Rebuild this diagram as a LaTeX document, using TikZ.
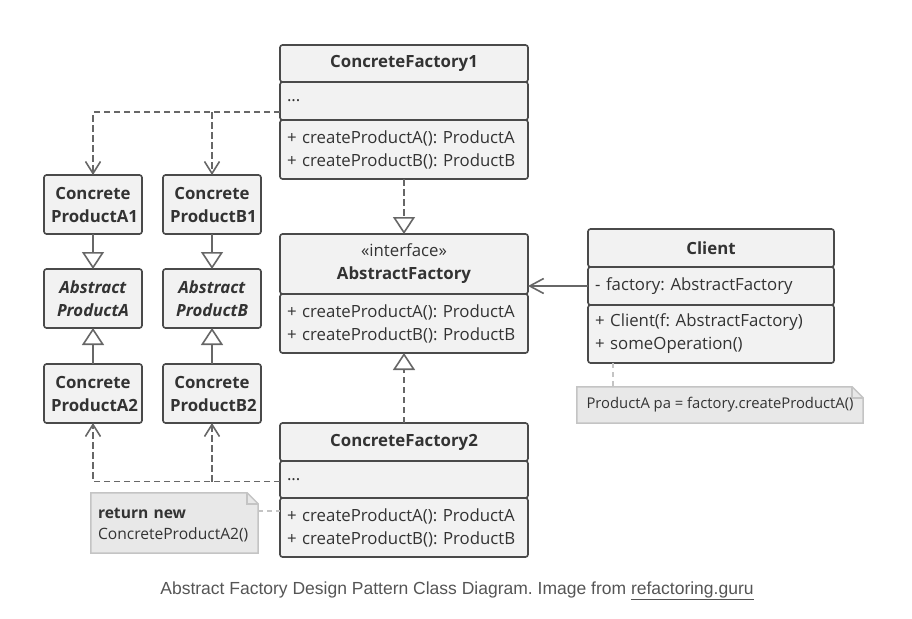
\documentclass[tikz,border=0pt]{standalone}
\usepackage{fontspec}
\setmainfont{Open Sans}
\newfontfamily\captionfont{Liberation Sans}
\usetikzlibrary{arrows.meta,positioning}
\definecolor{boxfill}{HTML}{F2F2F2}
\definecolor{boxline}{HTML}{4A4A4A}
\definecolor{ink}{HTML}{333333}
\definecolor{wire}{HTML}{676767}
\definecolor{memofill}{HTML}{E8E8E8}
\definecolor{memoline}{HTML}{C4C4C4}
\definecolor{capgrey}{HTML}{555555}
\frenchspacing
\newcommand{\diag}{\fontsize{16.8}{23}\selectfont}
\newcommand{\memotext}{\fontsize{14.8}{20.5}\selectfont}
\tikzstyle{part} = [rectangle, draw=boxline, fill=boxfill, line width=1.6pt, rounded corners=2.5pt, outer sep=0pt, inner xsep=7pt, inner ysep=0pt, text=ink]
\tikzstyle{head} = [part, font=\diag\bfseries, text width=234pt, align=center, minimum height=37pt]
\tikzstyle{attrs} = [part, font=\diag, text width=234pt, align=left, minimum height=38pt]
\tikzstyle{ops} = [part, font=\diag, text width=234pt, align=left, minimum height=59pt]
\tikzstyle{prod} = [part, font=\diag\bfseries, text width=84pt, align=center, minimum height=59pt]
\tikzstyle{memo} = [rectangle, inner xsep=7pt, inner ysep=0pt, font=\memotext, text=ink, align=left]
\tikzstyle{memoedge} = [draw=memoline, fill=memofill, line width=1.5pt]
\tikzstyle{dep} = [draw, wire, line width=1.6pt, dash pattern=on 6.5pt off 3.5pt, -{Straight Barb[length=12pt,width=15pt,line width=1.6pt]}]
\tikzstyle{real} = [draw, wire, line width=1.6pt, dash pattern=on 6.5pt off 3.5pt, -{Triangle[length=17pt,width=22pt,open,fill=white,line width=1.6pt]}]
\tikzstyle{inherit} = [draw, wire, line width=1.6pt, -{Triangle[length=17pt,width=22pt,open,fill=white,line width=1.6pt]}]
\tikzstyle{assoc} = [draw, wire, line width=1.6pt, -{Straight Barb[length=14pt,width=15pt,line width=1.6pt]}]
\tikzstyle{link} = [draw, memoline, line width=1.5pt, dash pattern=on 5pt off 4pt]

\begin{document}
\begin{tikzpicture}[x=1pt, y=-1pt]
		\useasboundingbox (0,0) rectangle (912,618);
		% Place nodes
		\node [head, anchor=north] (cf1h) at (404,45) {ConcreteFactory1};
		\node [attrs, below=0pt of cf1h] (cf1a) {...};
		\node [ops, below=0pt of cf1a] (cf1m) {+ createProductA(): ProductA\\+ createProductB(): ProductB};
		\node [head, font=\diag, minimum height=60pt, anchor=north] (afh) at (404,234) {«interface»\\\textbf{AbstractFactory}};
		\node [ops, below=0pt of afh] (afm) {+ createProductA(): ProductA\\+ createProductB(): ProductB};
		\node [head, minimum height=38pt, anchor=north] (cf2h) at (404,423) {ConcreteFactory2};
		\node [attrs, minimum height=37pt, below=0pt of cf2h] (cf2a) {...};
		\node [ops, below=0pt of cf2a] (cf2m) {+ createProductA(): ProductA\\+ createProductB(): ProductB};
		\node [head, text width=232pt, minimum height=38pt, anchor=north] (clh) at (711,229) {Client};
		\node [attrs, text width=232pt, below=0pt of clh] (cla) {- factory: AbstractFactory};
		\node [ops, text width=232pt, minimum height=58pt, below=0pt of cla] (clm) {+ Client(f: AbstractFactory)\\+ someOperation()};
		\node [prod, anchor=north] (pa1) at (93,175) {Concrete\\ProductA1};
		\node [prod, right=21pt of pa1] (pb1) {Concrete\\ProductB1};
		\node [prod, below=35pt of pa1] (apa) {\textit{Abstract}\\\textit{ProductA}};
		\node [prod, below=35pt of pb1] (apb) {\textit{Abstract}\\\textit{ProductB}};
		\node [prod, below=36pt of apa] (pa2) {Concrete\\ProductA2};
		\node [prod, below=36pt of apb] (pb2) {Concrete\\ProductB2};
		\node [memo, text width=153pt, minimum height=60pt] (memo1) at (174.5,523) {};
		\node [memo, minimum width=286pt, minimum height=36pt] (memo2) at (720,405) {};
		\node [font=\captionfont\fontsize{17.5}{20}\selectfont, text=capgrey] (caption) at (457,591) {Abstract Factory Design Pattern Class Diagram. Image from \underline{refactoring.guru}};
		% Draw notes
		\path [memoedge] (memo1.north west) -- ([xshift=-11pt]memo1.north east) -- ([yshift=-11pt]memo1.north east) -- (memo1.south east) -- (memo1.south west) -- cycle;
		\path [memoedge] (memo2.north west) -- ([xshift=-11pt]memo2.north east) -- ([yshift=-11pt]memo2.north east) -- (memo2.south east) -- (memo2.south west) -- cycle;
		\path [draw=memoline, line width=1.5pt] ([xshift=-11pt]memo1.north east) -- ([xshift=-11pt,yshift=-11pt]memo1.north east) -- ([yshift=-11pt]memo1.north east);
		\path [draw=memoline, line width=1.5pt] ([xshift=-11pt]memo2.north east) -- ([xshift=-11pt,yshift=-11pt]memo2.north east) -- ([yshift=-11pt]memo2.north east);
		\node [memo, font=\fontsize{15.6}{20.5}\selectfont, text width=153pt, minimum height=60pt] (memo1text) at ([yshift=-2pt]memo1) {\textbf{return new}\\ConcreteProductA2()};
		\node [memo, align=center, minimum width=286pt, minimum height=36pt] (memo2text) at (memo2) {ProductA pa = factory.createProductA()};
		% Draw edges
		\coordinate (cf1out) at ([yshift=-11pt]cf1a.west);
		\coordinate (cf2out) at ([yshift=-2pt]cf2a.west);
		\coordinate (clfoot) at ([xshift=25pt]clm.south west);
		\path [dep] (cf1out) -| (pa1.north);
		\path [dep] (cf1out -| pb1.north) -- (pb1.north);
		\path [dep] (cf2out) -| (pa2.south);
		\path [dep] (cf2out -| pb2.south) -- (pb2.south);
		\path [real] (cf1m) -- (afh);
		\path [real] (cf2h) -- (afm);
		\path [inherit] (pa1) -- (apa);
		\path [inherit] (pb1) -- (apb);
		\path [inherit] (pa2) -- (apa);
		\path [inherit] (pb2) -- (apb);
		\path [assoc] (cla.west) -- (cla.west -| afh.east);
		\path [link] ([yshift=12pt]memo1.east) -- ([yshift=12pt]memo1.east -| cf2m.west);
		\path [link] (clfoot) -- (clfoot |- memo2.north);
	\end{tikzpicture}
\end{document}
